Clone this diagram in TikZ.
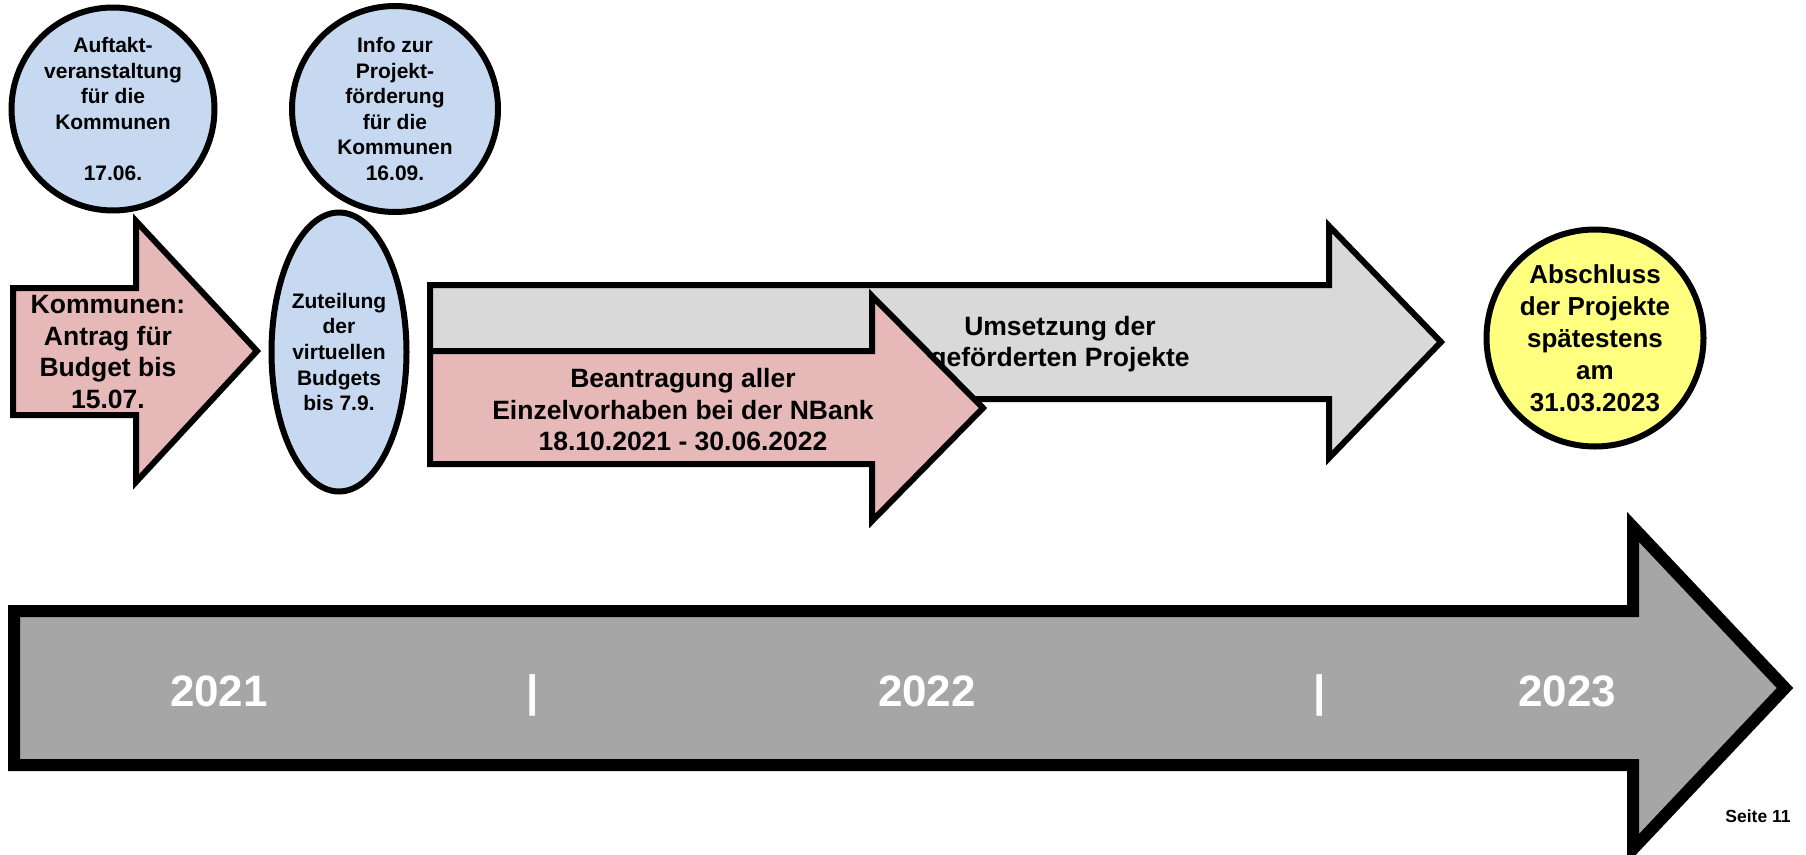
\documentclass[tikz,border=0pt]{standalone}
\usepackage{fontspec}
\setmainfont{Liberation Sans}
\usetikzlibrary{shapes.geometric}
\definecolor{cblue}{HTML}{C6D9F1}
\definecolor{cpink}{HTML}{E6B9B8}
\definecolor{clight}{HTML}{D9D9D9}
\definecolor{cdark}{HTML}{A6A6A6}
\definecolor{cyellow}{HTML}{FFFF80}
\begin{document}
\begin{tikzpicture}[x=1pt,y=-1pt,
  shapeline/.style={draw=black,line width=6pt,line join=miter},
  bigtxt/.style={font=\fontsize{26.5}{31.5}\selectfont\bfseries,align=center,inner sep=0pt},
  smalltxt/.style={font=\fontsize{21}{25.6}\selectfont\bfseries,align=center,inner sep=0pt},
  yeartxt/.style={font=\fontsize{44}{50}\selectfont\bfseries,text=white,inner sep=0pt,anchor=base},
  bubble/.style={shapeline,circle,fill=cblue,inner sep=0pt,minimum size=#1}]
\useasboundingbox (0,0) rectangle (1806,854);

% big timeline arrow
\draw[draw=black,line width=12pt,line join=miter,fill=cdark]
  (14,611) -- (1633,611) -- (1633,527) -- (1785,688) -- (1633,849) -- (1633,765) -- (14,765) -- cycle;
\node[yeartxt] (y21) at (219,706) {2021};
\node[yeartxt] (s1) at (533,706) {|};
\node[yeartxt] (y22) at (927,706) {2022};
\node[yeartxt] (s2) at (1320,706) {|};
\node[yeartxt] (y23) at (1567,706) {2023};
\node[font=\fontsize{17.5}{20}\selectfont\bfseries,anchor=base,inner sep=0pt] (seite) at (1758,822) {Seite 11};

% circles top
\node[bubble=203] (c1) at (113,109) {};
\node[smalltxt] (c1t) at (c1) {Auftakt-\\veranstaltung\\für die\\Kommunen\\[25.6pt]17.06.};
\node[bubble=206] (c2) at (395,109) {};
\node[smalltxt] (c2t) at (c2) {Info zur\\Projekt-\\förderung\\für die\\Kommunen\\16.09.};

% pink arrow 1
\draw[shapeline,fill=cpink] (13,288) -- (136,288) -- (136,221) -- (257,351) -- (136,482) -- (136,415) -- (13,415) -- cycle;
\node[bigtxt] (a1t) at (108,352) {Kommunen:\\Antrag für\\Budget bis\\15.07.};

% ellipse
\node[shapeline,ellipse,fill=cblue,minimum width=135,minimum height=279,inner sep=0pt] (ell) at (339,352) {};
\node[smalltxt] (ellt) at (ell) {Zuteilung\\der\\virtuellen\\Budgets\\bis 7.9.};

% gray arrow
\draw[shapeline,fill=clight] (430,285) -- (1329,285) -- (1329,226) -- (1441,342) -- (1329,458) -- (1329,399) -- (430,399) -- cycle;
\node[bigtxt] (gt) at (1060,344) {Umsetzung der\\geförderten Projekte};

% pink arrow 2
\draw[shapeline,fill=cpink] (430,351) -- (872,351) -- (872,296) -- (983,408) -- (872,521) -- (872,464) -- (430,464) -- cycle;
\node[bigtxt] (pt) at (683,410) {Beantragung aller\\Einzelvorhaben bei der NBank\\18.10.2021 - 30.06.2022};

% yellow circle
\node[shapeline,circle,fill=cyellow,inner sep=0pt,minimum size=217] (yc) at (1595,338) {};
\node[bigtxt,font=\fontsize{26}{32}\selectfont\bfseries] (yct) at (yc) {Abschluss\\der Projekte\\spätestens\\am\\31.03.2023};
\end{tikzpicture}
\end{document}
